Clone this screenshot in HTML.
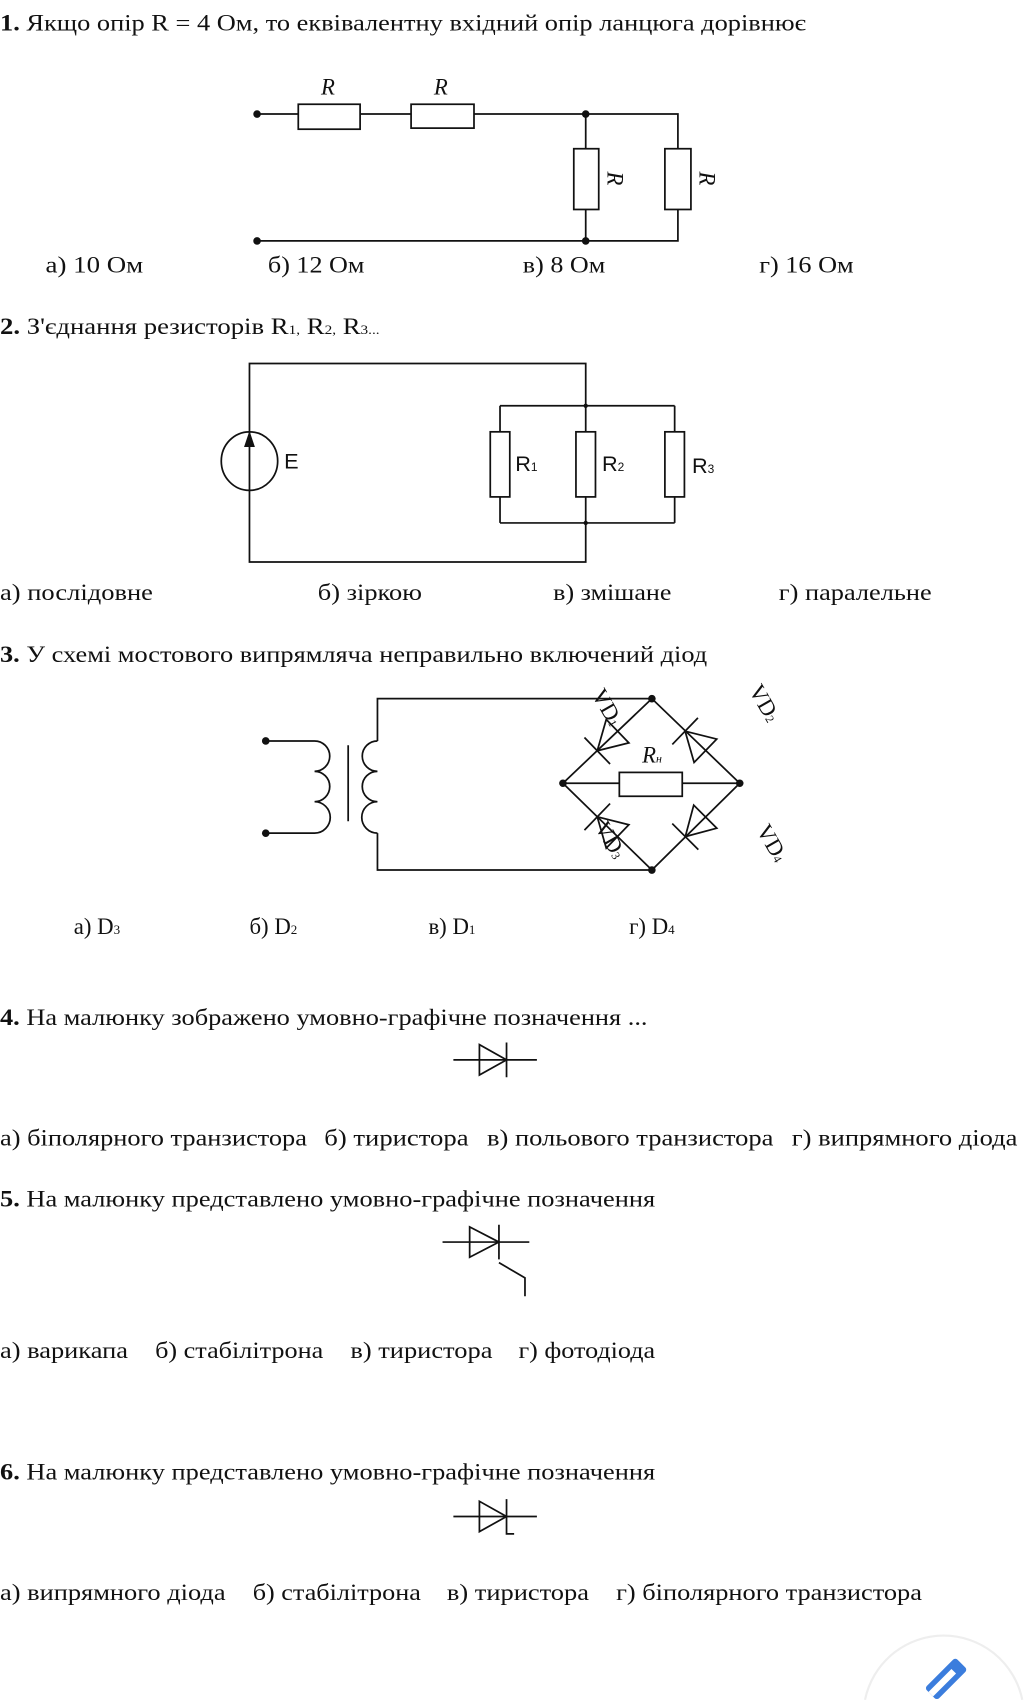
<!DOCTYPE html>
<html><head><meta charset="utf-8"><style>
html,body{margin:0;padding:0;background:#fff;width:1025px;height:1701px;overflow:hidden}
svg{display:block}
text{font-family:"Liberation Serif",serif;font-size:21px;fill:#111}
.s{font-family:"Liberation Sans",sans-serif;font-size:20px}
</style></head><body>
<svg width="1025" height="1701" viewBox="0 0 945 1568" xmlns="http://www.w3.org/2000/svg">
<defs>
<g id="dio"><polygon points="-13,-15 -13,15 13,0" fill="none" stroke="#111" stroke-width="1.6"/><line x1="13" y1="-17" x2="13" y2="17" stroke="#111" stroke-width="1.6"/></g>
</defs>
<g stroke="#111" stroke-width="1.6" fill="none">
<path d="M237,105 H275 M332,105 H379 M437,105 H625 V137 M625,193 V222 H237 M540,105 V137 M540,193 V222"/>
<rect x="275" y="96" width="57" height="23" fill="#fff"/>
<rect x="379" y="96" width="58" height="22" fill="#fff"/>
<rect x="529" y="137" width="23" height="56" fill="#fff"/>
<rect x="613" y="137" width="24" height="56" fill="#fff"/>
<path d="M230,335 H540 V518 H230 Z M461,374 H622 M461,482 H622 M461,374 V398 M461,458 V482 M622,374 V398 M622,458 V482"/>
<rect x="452" y="398" width="18" height="60" fill="#fff"/>
<rect x="531" y="398" width="18" height="60" fill="#fff"/>
<rect x="613" y="398" width="18" height="60" fill="#fff"/>
<ellipse cx="230" cy="425" rx="26" ry="27" fill="#fff"/>
<line x1="230" y1="398" x2="230" y2="452"/>
<path d="M601,644 H348 V683 M348,768 V802 H601"/>
<path d="M601,644 L519,722 L601,802 L682,722 Z M519,722 H571 M629,722 H682"/>
<rect x="571" y="712" width="58" height="22" fill="#fff"/>
<path d="M245,683 H290 a14,14 0 0 1 0,28 a14,14 0 0 1 0,28 a14,14 0 0 1 0,29 H245"/>
<line x1="321" y1="687" x2="321" y2="757"/>
<path d="M348,683 a14,14 0 0 0 0,28 a14,14 0 0 0 0,28 a14,14 0 0 0 0,29"/>
<path d="M418,977 H495 M467,961 V993"/><polygon points="442,963 442,991 467,977"/>
<path d="M408,1145 H488 M460,1129 V1161 M460,1164 L484,1178 V1195"/><polygon points="433,1131 433,1159 460,1145"/>
<path d="M418,1398 H495 M467,1382 V1414 H474"/><polygon points="442,1384 442,1412 467,1398"/>
</g>
<g fill="#111">
<circle cx="237" cy="105" r="3.5"/><circle cx="540" cy="105" r="3.5"/><circle cx="237" cy="222" r="3.5"/><circle cx="540" cy="222" r="3.5"/>
<circle cx="540" cy="374" r="2"/><circle cx="540" cy="482" r="2"/>
<polygon points="230,397 225,412 235,412"/>
<circle cx="245" cy="683" r="3.5"/><circle cx="245" cy="768" r="3.5"/>
<circle cx="601" cy="644" r="3.5"/><circle cx="519" cy="722" r="3.5"/><circle cx="682" cy="722" r="3.5"/><circle cx="601" cy="802" r="3.5"/>
</g>
<use href="#dio" transform="translate(560,683) rotate(136)"/>
<use href="#dio" transform="translate(641,683) rotate(-136)"/>
<use href="#dio" transform="translate(560,762) rotate(-136)"/>
<use href="#dio" transform="translate(641,762) rotate(135)"/>

<text x="0" y="28" textLength="743" lengthAdjust="spacingAndGlyphs"><tspan font-weight="bold">1.</tspan> Якщо опір R = 4 Ом, то еквівалентну вхідний опір ланцюга дорівнює</text>
<text x="296" y="87" font-style="italic">R</text><text x="400" y="87" font-style="italic">R</text>
<text transform="translate(560,158) rotate(90)" font-style="italic">R</text>
<text transform="translate(645,158) rotate(90)" font-style="italic">R</text>
<text x="42" y="251" textLength="90" lengthAdjust="spacingAndGlyphs">а) 10 Ом</text>
<text x="247" y="251" textLength="89" lengthAdjust="spacingAndGlyphs">б) 12 Ом</text>
<text x="482" y="251" textLength="76" lengthAdjust="spacingAndGlyphs">в) 8 Ом</text>
<text x="700" y="251" textLength="87" lengthAdjust="spacingAndGlyphs">г) 16 Ом</text>

<text x="0" y="308" textLength="350" lengthAdjust="spacingAndGlyphs"><tspan font-weight="bold">2.</tspan> З'єднання резисторів R<tspan font-size="12">1,</tspan> R<tspan font-size="12">2,</tspan> R<tspan font-size="12">3...</tspan></text>
<text class="s" x="262" y="432">E</text>
<text class="s" x="475" y="434">R<tspan font-size="11">1</tspan></text>
<text class="s" x="555" y="434">R<tspan font-size="11">2</tspan></text>
<text class="s" x="638" y="436">R<tspan font-size="11">3</tspan></text>
<text x="0" y="553" textLength="141" lengthAdjust="spacingAndGlyphs">а) послідовне</text>
<text x="293" y="553" textLength="96" lengthAdjust="spacingAndGlyphs">б) зіркою</text>
<text x="510" y="553" textLength="109" lengthAdjust="spacingAndGlyphs">в) змішане</text>
<text x="718" y="553" textLength="141" lengthAdjust="spacingAndGlyphs">г) паралельне</text>

<text x="0" y="610" textLength="652" lengthAdjust="spacingAndGlyphs"><tspan font-weight="bold">3.</tspan> У схемі мостового випрямляча неправильно включений діод</text>
<text x="592" y="703" font-style="italic" font-size="18">R<tspan font-size="11">н</tspan></text>
<text transform="translate(545,640) rotate(60)" font-size="18">VD<tspan font-size="11">1</tspan></text>
<text transform="translate(690,636) rotate(60)" font-size="18">VD<tspan font-size="11">2</tspan></text>
<text transform="translate(548,762) rotate(60)" font-size="18">VD<tspan font-size="11">3</tspan></text>
<text transform="translate(697,765) rotate(60)" font-size="18">VD<tspan font-size="11">4</tspan></text>
<text x="68" y="861">а) D<tspan font-size="12">3</tspan></text><text x="230" y="861">б) D<tspan font-size="12">2</tspan></text><text x="395" y="861">в) D<tspan font-size="12">1</tspan></text><text x="580" y="861">г) D<tspan font-size="12">4</tspan></text>

<text x="0" y="945" textLength="597" lengthAdjust="spacingAndGlyphs"><tspan font-weight="bold">4.</tspan> На малюнку зображено умовно-графічне позначення ...</text>
<text x="0" y="1056" textLength="283" lengthAdjust="spacingAndGlyphs">а) біполярного транзистора</text>
<text x="299" y="1056" textLength="133" lengthAdjust="spacingAndGlyphs">б) тиристора</text>
<text x="449" y="1056" textLength="264" lengthAdjust="spacingAndGlyphs">в) польового транзистора</text>
<text x="730" y="1056" textLength="208" lengthAdjust="spacingAndGlyphs">г) випрямного діода</text>

<text x="0" y="1112" textLength="604" lengthAdjust="spacingAndGlyphs"><tspan font-weight="bold">5.</tspan> На малюнку представлено умовно-графічне позначення</text>
<text x="0" y="1252" textLength="118" lengthAdjust="spacingAndGlyphs">а) варикапа</text>
<text x="143" y="1252" textLength="155" lengthAdjust="spacingAndGlyphs">б) стабілітрона</text>
<text x="323" y="1252" textLength="131" lengthAdjust="spacingAndGlyphs">в) тиристора</text>
<text x="478" y="1252" textLength="126" lengthAdjust="spacingAndGlyphs">г) фотодіода</text>

<text x="0" y="1364" textLength="604" lengthAdjust="spacingAndGlyphs"><tspan font-weight="bold">6.</tspan> На малюнку представлено умовно-графічне позначення</text>
<text x="0" y="1475" textLength="208" lengthAdjust="spacingAndGlyphs">а) випрямного діода</text>
<text x="233" y="1475" textLength="155" lengthAdjust="spacingAndGlyphs">б) стабілітрона</text>
<text x="412" y="1475" textLength="131" lengthAdjust="spacingAndGlyphs">в) тиристора</text>
<text x="568" y="1475" textLength="282" lengthAdjust="spacingAndGlyphs">г) біполярного транзистора</text>

<path d="M797.5,1567 A74,74 0 0 1 942.5,1567" fill="#fff" stroke="#eee" stroke-width="2"/>
<g transform="translate(868,1552) rotate(45)">
<rect x="-8" y="-26" width="16" height="40" rx="3" fill="#3b7ddd"/>
<rect x="-3" y="-16" width="6" height="30" fill="#fff"/>
</g>
</svg>
</body></html>
